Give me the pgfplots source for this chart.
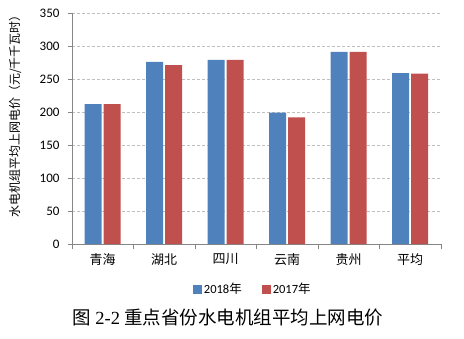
\documentclass[border=0pt]{standalone}
\usepackage{fontspec}
\setmainfont{Carlito}
\newfontfamily\cjk{Noto Sans CJK SC}
\newfontfamily\serifl{Liberation Serif}
\usepackage{pgfplots}
\pgfplotsset{compat=1.18}
\definecolor{xblue}{HTML}{4F81BD}
\definecolor{xred}{HTML}{C0504D}
\definecolor{gridc}{HTML}{BFBFBF}
\definecolor{axc}{HTML}{868686}
\begin{document}
\begin{tikzpicture}[x=1pt,y=1pt]
\useasboundingbox (0,0) rectangle (464,338);
\begin{axis}[
  at={(72pt,94pt)}, anchor=south west,
  scale only axis, width=369pt, height=231pt,
  ybar, bar width=17pt,
  xmin=-0.5, xmax=5.5, ymin=0, ymax=350,
  ytick={0,50,...,350},
  xtick={0,...,5},
  xticklabels={青海,湖北,四川,云南,贵州,平均},
  x tick label style={font=\fontsize{13}{13}\selectfont\cjk, yshift=-2pt},
  y tick label style={font=\fontsize{13}{13}\selectfont, xshift=-5pt},
  /pgf/number format/assume math mode=true,
  major x tick style={draw=none},
  minor xtick={-0.5,0.5,...,5.5},
  minor x tick style={draw=axc},
  minor tick length=5pt,
  tick align=outside,
  major tick length=4pt,
  y tick style={draw=axc},
  ymajorgrids, grid style={gridc, densely dashed, line width=0.6pt},
  axis x line*=bottom, axis y line*=left,
  axis line style={axc, line width=0.8pt},
  x axis line style={-}, y axis line style={-},
  ylabel={\cjk 水电机组平均上网电价（元/千千瓦时）},
  ylabel style={font=\fontsize{12}{12}\selectfont, at={(rel axis cs:0,0.5)}, anchor=center, yshift=57pt, xshift=15pt},
  legend style={at={(0.49,-0.195)}, anchor=center, draw=none, legend columns=2,
    font=\fontsize{12.5}{12.5}\selectfont, /tikz/every even column/.append style={column sep=18pt}},
  legend image code/.code={\fill[#1] (0pt,-4.5pt) rectangle (9pt,4.5pt);},
  legend cell align=left,
]
\addplot[fill=xblue, draw=none] coordinates {(0,212) (1,276) (2,279) (3,199) (4,291) (5,259)};
\addplot[fill=xred, draw=none] coordinates {(0,212) (1,271) (2,279) (3,192) (4,291) (5,258)};
\legend{2018{\cjk 年},2017{\cjk 年}}
\end{axis}
\node[font=\fontsize{18.5}{18.5}\selectfont] at (228,20) {{\cjk 图} {\serifl 2-2} {\cjk 重点省份水电机组平均上网电价}};
\end{tikzpicture}
\end{document}
